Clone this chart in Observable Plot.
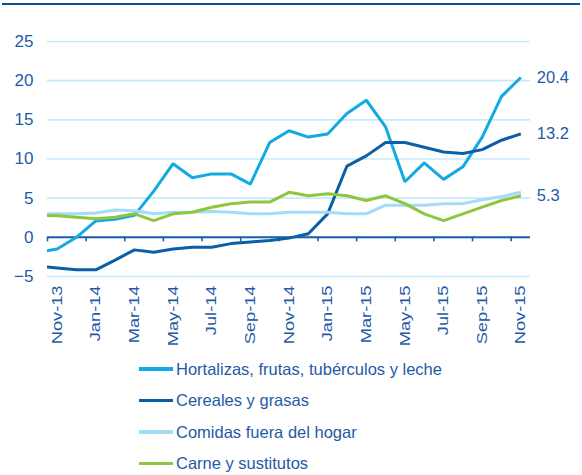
<!DOCTYPE html>
<html>
<head>
<meta charset="utf-8">
<script src="https://cdn.jsdelivr.net/npm/d3@7"></script>
<script src="https://cdn.jsdelivr.net/npm/@observablehq/plot@0.6"></script>
<style>
  html, body { margin: 0; padding: 0; background: #fff; }
  body { width: 582px; height: 475px; position: relative; overflow: hidden; font-family: "Liberation Sans", Arial, sans-serif; }
  #topRule { position: absolute; left: 2px; top: 3px; width: 578px; height: 2px; background: #0b4f9c; }
  #chart { position: absolute; left: 0; top: 0; }
  .leg { position: absolute; left: 139px; height: 20px; display: flex; align-items: center; font-size: 16.5px; color: #1f5aa6; }
  .leg .sw { width: 34px; height: 3.5px; margin-right: 3px; }
</style>
</head>
<body>
<div id="topRule"></div>
<div id="chart"></div>
<div id="legend"></div>
<script>
// Months (first month only feeds the clipped left edge segment)
const months = ["Oct-13","Nov-13","Dec-13","Jan-14","Feb-14","Mar-14","Apr-14","May-14","Jun-14","Jul-14","Aug-14","Sep-14","Oct-14","Nov-14","Dec-14","Jan-15","Feb-15","Mar-15","Apr-15","May-15","Jun-15","Jul-15","Aug-15","Sep-15","Oct-15","Nov-15"];
const seriesNames = ["Hortalizas, frutas, tubérculos y leche", "Cereales y grasas", "Comidas fuera del hogar", "Carne y sustitutos"];
const seriesColors = ["#12aae3", "#0b5ea8", "#a3dcf6", "#8dc63f"];
const hortalizas = [-1.9, -1.5, 0.0, 2.1, 2.3, 2.8, 5.9, 9.4, 7.6, 8.1, 8.1, 6.8, 12.1, 13.6, 12.8, 13.2, 15.8, 17.5, 14.1, 7.1, 9.5, 7.4, 9.0, 12.8, 18.0, 20.4];
const cereales = [-3.7, -3.9, -4.15, -4.15, -2.9, -1.6, -1.9, -1.5, -1.26, -1.26, -0.8, -0.6, -0.4, -0.1, 0.45, 3.0, 9.1, 10.4, 12.1, 12.1, 11.5, 10.9, 10.7, 11.2, 12.4, 13.2];
const comidas = [3.0, 3.0, 3.0, 3.1, 3.5, 3.4, 3.0, 3.2, 3.2, 3.3, 3.2, 3.0, 3.0, 3.2, 3.2, 3.2, 3.0, 3.0, 4.1, 4.1, 4.1, 4.3, 4.3, 4.8, 5.2, 5.75];
const carne = [2.85, 2.75, 2.57, 2.36, 2.57, 3.0, 2.14, 3.0, 3.2, 3.85, 4.3, 4.5, 4.5, 5.75, 5.3, 5.55, 5.3, 4.7, 5.3, 4.3, 3.0, 2.14, 3.0, 3.85, 4.7, 5.3];
const endLabels = ["20.4", "13.2", null, "5.3"];
const yTicks = [-5, 0, 5, 10, 15, 20, 25];

const allSeries = [hortalizas, cereales, comidas, carne];
const rows = [];
allSeries.forEach((vals, s) => vals.forEach((v, i) => rows.push({series: seriesNames[s], idx: i - 1, month: months[i], value: v})));
const lastIdx = months.length - 2;
const labelRows = allSeries.map((vals, s) => ({series: seriesNames[s], idx: lastIdx, value: vals[vals.length - 1], label: endLabels[s]})).filter(d => d.label);
const tickLabelIdx = d3.range(0, lastIdx + 1, 2);
const boundaryIdx = d3.range(-0.5, lastIdx, 2);

const textColor = "#1f5aa8";
const chart = Plot.plot({
  width: 582,
  height: 352,
  marginLeft: 47,
  marginRight: 52,
  marginTop: 41,
  marginBottom: 76,
  style: {fontFamily: "'Liberation Sans', Arial, sans-serif", fontSize: "16.5px", color: textColor, background: "transparent", overflow: "visible"},
  x: {type: "linear", domain: [-0.5, lastIdx + 0.5]},
  y: {domain: [-5, 25]},
  color: {domain: seriesNames, range: seriesColors},
  marks: [
    Plot.ruleY(yTicks, {stroke: "#c8eaf8", strokeWidth: 1.6}),
    Plot.ruleY([0], {stroke: "#1a5fac", strokeWidth: 2}),
    Plot.ruleX(boundaryIdx, {y1: 0, y2: 0, insetBottom: -4.5, stroke: "#1a5fac", strokeWidth: 1.6}),
    Plot.axisY(yTicks, {tickSize: 0, tickPadding: 14, fill: textColor, fontSize: 17, label: null}),
    Plot.axisX(tickLabelIdx, {tickSize: 0, tickPadding: 9, tickRotate: -90, tickFormat: i => months[i + 1], fill: textColor, fontSize: 16, label: null}),
    Plot.line(rows, {x: "idx", y: "value", z: "series", stroke: "series", strokeWidth: 3, clip: true, strokeLinejoin: "miter", strokeLinecap: "butt"}),
    Plot.text(labelRows, {x: "idx", y: "value", text: "label", dx: 16, textAnchor: "start", fill: textColor, fontSize: 16.5})
  ]
});
// rotated month labels in the reference are drawn taller and narrower
d3.select(chart).selectAll('g[aria-label="x-axis tick label"] text').each(function () {
  const t = this.getAttribute("transform");
  if (t) this.setAttribute("transform", t + " scale(1.14,0.9)");
});
document.getElementById("chart").appendChild(chart);

const legend = document.getElementById("legend");
seriesNames.forEach((name, s) => {
  const row = document.createElement("div");
  row.className = "leg";
  row.style.top = (359 + s * 31.5) + "px";
  const sw = document.createElement("span");
  sw.className = "sw";
  sw.style.background = seriesColors[s];
  const tx = document.createElement("span");
  tx.textContent = name;
  row.appendChild(sw);
  row.appendChild(tx);
  legend.appendChild(row);
});
</script>
</body>
</html>
